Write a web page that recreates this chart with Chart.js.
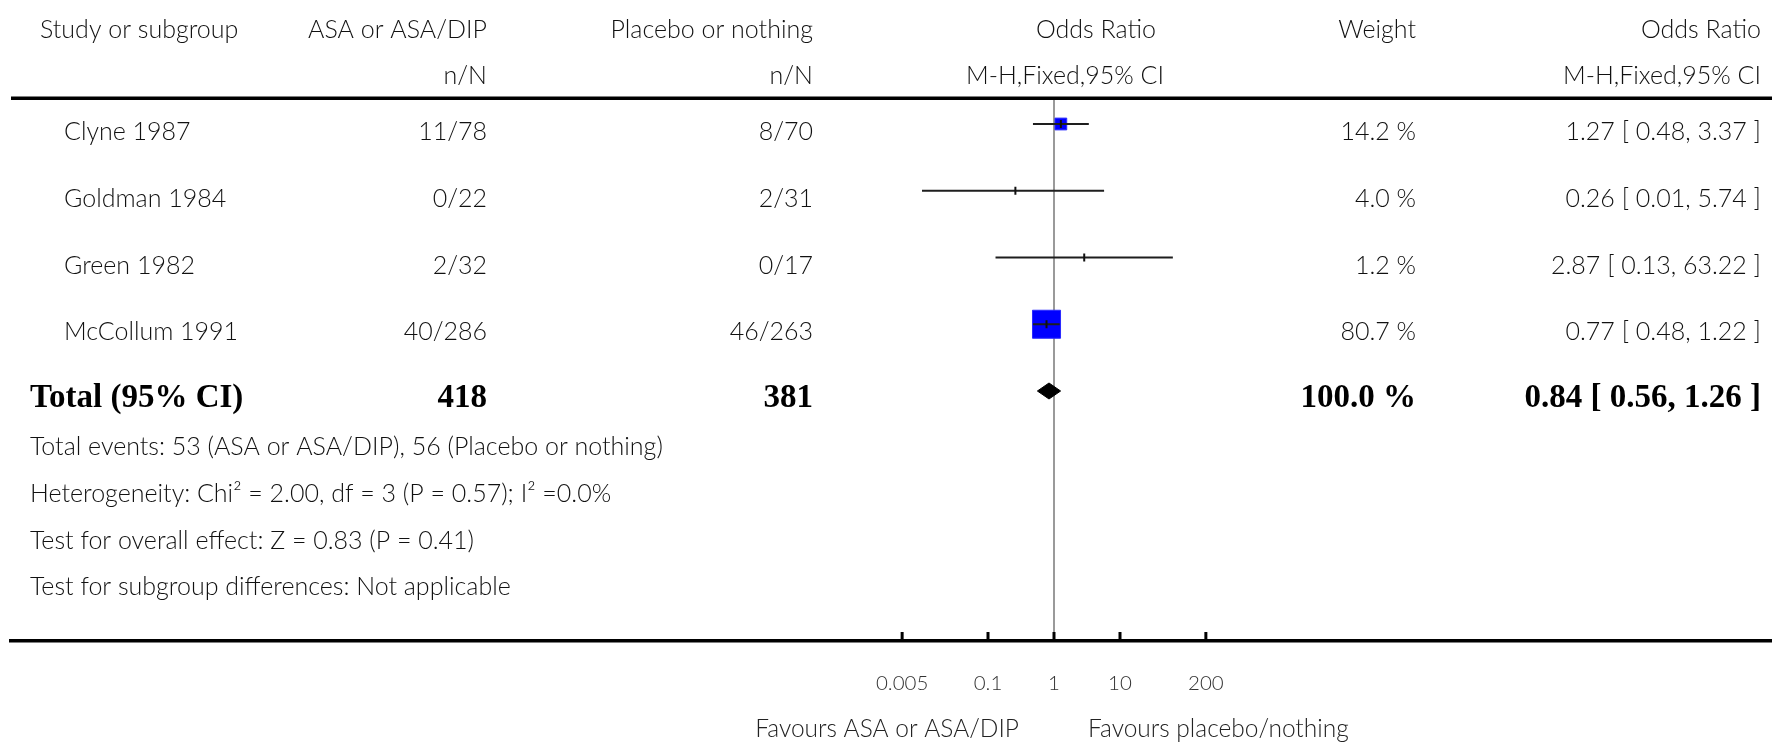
<!DOCTYPE html>
<html>
<head>
<meta charset="utf-8">
<script src="https://cdn.jsdelivr.net/npm/chart.js@4.4.1/dist/chart.umd.min.js"></script>
<style>
  html, body { margin: 0; padding: 0; background: #fff; }
  #wrap { width: 1772px; height: 742px; position: relative; }
</style>
</head>
<body>
<div id="wrap"><canvas id="forest"></canvas></div>
<script>
// study data (odds ratio, M-H fixed, 95% CI)
const studies = ['Clyne 1987', 'Goldman 1984', 'Green 1982', 'McCollum 1991'];
const asaEvents = [11, 0, 2, 40];
const asaTotals = [78, 22, 32, 286];
const ctrlEvents = [8, 2, 0, 46];
const ctrlTotals = [70, 31, 17, 263];
const oddsRatios = [1.27, 0.26, 2.87, 0.77];
const ciLower = [0.48, 0.01, 0.13, 0.48];
const ciUpper = [3.37, 5.74, 63.22, 1.22];
const weights = [14.2, 4.0, 1.2, 80.7];

// pooled result
const totalAsa = 418;
const totalCtrl = 381;
const totalWeight = 100.0;
const totalOR = 0.84;
const totalLower = 0.56;
const totalUpper = 1.26;

const axisTicks = [0.005, 0.1, 1, 10, 200];
const footerLines = [
  'Total events: 53 (ASA or ASA/DIP), 56 (Placebo or nothing)',
  'Heterogeneity: Chi\u00B2 = 2.00, df = 3 (P = 0.57); I\u00B2 =0.0%',
  'Test for overall effect: Z = 0.83 (P = 0.41)',
  'Test for subgroup differences: Not applicable'
];

const SANS = 'Lato, "Open Sans", sans-serif';
const SERIF = '"Liberation Serif", "DejaVu Serif", serif';

// log axis layout: where OR = 1 sits and how wide one decade is
const nullPx = 1054, decadePx = 66, plotLeft = 11, plotRight = 1772;
// rows: first study at 124px, then one row every 66.75px; axis line at 641px
const rowTop = 124, rowPx = 66.75, axisPx = 641;
const yMin = -rowTop / rowPx;
const yMax = (axisPx - rowTop) / rowPx;
const totalRow = studies.length;
const ruleRow = -0.385;
const baseline = 16; // text baseline sits a bit below the row centre

const ciSets = studies.map((s, i) => ({
  data: [{ x: ciLower[i], y: i }, { x: ciUpper[i], y: i }],
  showLine: true,
  borderColor: '#1e1e1e',
  borderWidth: 2,
  pointRadius: 0,
  order: 1
}));

// box side grows with the square root of the weight; tiny weights get no box
const boxRadius = weights.map(w => w >= 10 ? 3.12 * Math.sqrt(w) / Math.SQRT2 : 0);

const datasets = [
  {
    data: oddsRatios.map((v, i) => ({ x: v, y: i })),
    pointStyle: 'line',
    rotation: 90,
    pointRadius: 4,
    borderColor: '#111',
    borderWidth: 2,
    order: 0
  },
  ...ciSets,
  {
    data: oddsRatios.map((v, i) => ({ x: v, y: i })),
    pointStyle: 'rect',
    pointRadius: boxRadius,
    backgroundColor: '#0000ff',
    borderColor: '#2a2aff',
    borderWidth: 1,
    order: 2
  },
  {
    // pooled diamond
    data: [
      { x: totalLower, y: totalRow },
      { x: totalOR, y: totalRow - 0.12 },
      { x: totalUpper, y: totalRow },
      { x: totalOR, y: totalRow + 0.12 },
      { x: totalLower, y: totalRow }
    ],
    showLine: true,
    fill: 'shape',
    backgroundColor: '#000',
    borderColor: '#000',
    borderWidth: 1,
    pointRadius: 0,
    order: 1
  },
  {
    // line of no effect
    data: [{ x: 1, y: ruleRow }, { x: 1, y: yMax }],
    showLine: true,
    borderColor: '#9a9a9a',
    borderWidth: 2,
    pointRadius: 0,
    order: 3
  }
];

const tablePlugin = {
  id: 'table',
  afterDraw(chart) {
    const ctx = chart.ctx;
    const xs = chart.scales.x, ys = chart.scales.y;
    const at = v => ys.getPixelForValue(v);
    const line = v => at(v) + baseline;
    const put = (t, x, y, align) => { ctx.textAlign = align; ctx.fillText(t, x, y); };

    ctx.save();
    ctx.textBaseline = 'alphabetic';
    ctx.fillStyle = '#111';
    ctx.font = `300 25px ${SANS}`;

    // header
    const h1 = line(-1.525), h2 = line(-0.84);
    put('Study or subgroup', 40, h1, 'left');
    put('ASA or ASA/DIP', 487, h1, 'right');
    put('Placebo or nothing', 813, h1, 'right');
    put('Odds Ratio', 1156, h1, 'right');
    put('Weight', 1416, h1, 'right');
    put('Odds Ratio', 1761, h1, 'right');
    put('n/N', 487, h2, 'right');
    put('n/N', 813, h2, 'right');
    put('M-H,Fixed,95% CI', 1164, h2, 'right');
    put('M-H,Fixed,95% CI', 1761, h2, 'right');

    // study rows
    studies.forEach((s, i) => {
      const y = line(i);
      put(s, 64, y, 'left');
      put(`${asaEvents[i]}/${asaTotals[i]}`, 487, y, 'right');
      put(`${ctrlEvents[i]}/${ctrlTotals[i]}`, 813, y, 'right');
      put(`${weights[i].toFixed(1)} %`, 1416, y, 'right');
      put(`${oddsRatios[i].toFixed(2)} [ ${ciLower[i].toFixed(2)}, ${ciUpper[i].toFixed(2)} ]`, 1761, y, 'right');
    });

    // footer notes
    footerLines.forEach((t, i) => put(t, 30, line(totalRow + 0.72 + i * 0.7), 'left'));

    // pooled row
    ctx.font = `bold 33px ${SERIF}`;
    ctx.fillStyle = '#000';
    const yt = line(totalRow);
    put('Total (95% CI)', 30, yt, 'left');
    put(String(totalAsa), 487, yt, 'right');
    put(String(totalCtrl), 813, yt, 'right');
    put(`${totalWeight.toFixed(1)} %`, 1416, yt, 'right');
    put(`${totalOR.toFixed(2)} [ ${totalLower.toFixed(2)}, ${totalUpper.toFixed(2)} ]`, 1761, yt, 'right');

    // header rule
    ctx.strokeStyle = '#000';
    ctx.lineWidth = 3.5;
    ctx.beginPath();
    ctx.moveTo(plotLeft, at(ruleRow));
    ctx.lineTo(plotRight, at(ruleRow));
    ctx.stroke();

    // tick marks pointing up from the axis
    ctx.lineWidth = 3;
    axisTicks.forEach(v => {
      const x = xs.getPixelForValue(v);
      ctx.beginPath();
      ctx.moveTo(x, axisPx - 9);
      ctx.lineTo(x, axisPx);
      ctx.stroke();
    });

    // favours labels
    ctx.font = `300 24.5px ${SANS}`;
    ctx.fillStyle = '#222';
    ctx.textBaseline = 'middle';
    const x1 = xs.getPixelForValue(1);
    put('Favours ASA or ASA/DIP', x1 - 35, 729, 'right');
    put('Favours placebo/nothing', x1 + 34, 729, 'left');
    ctx.restore();
  }
};

new Chart(document.getElementById('forest'), {
  type: 'scatter',
  data: { datasets },
  options: {
    responsive: true,
    maintainAspectRatio: false,
    animation: false,
    events: [],
    layout: { autoPadding: false, padding: { left: plotLeft, right: 0, top: 0, bottom: 0 } },
    plugins: { legend: { display: false }, tooltip: { enabled: false } },
    scales: {
      x: {
        type: 'logarithmic',
        min: Math.pow(10, (plotLeft - nullPx) / decadePx),
        max: Math.pow(10, (plotRight - nullPx) / decadePx),
        afterBuildTicks: scale => { scale.ticks = axisTicks.map(v => ({ value: v })); },
        afterFit: scale => { scale.height = 742 - axisPx; },
        grid: { drawOnChartArea: false, drawTicks: false },
        border: { display: true, color: '#000', width: 3.5 },
        ticks: {
          padding: 30,
          color: '#333',
          font: { family: SANS, size: 20.5, weight: 300 },
          maxRotation: 0,
          autoSkip: false,
          callback: v => String(v)
        }
      },
      y: {
        type: 'linear',
        display: false,
        reverse: true,
        min: yMin,
        max: yMax
      }
    }
  },
  plugins: [tablePlugin]
});
</script>
</body>
</html>
